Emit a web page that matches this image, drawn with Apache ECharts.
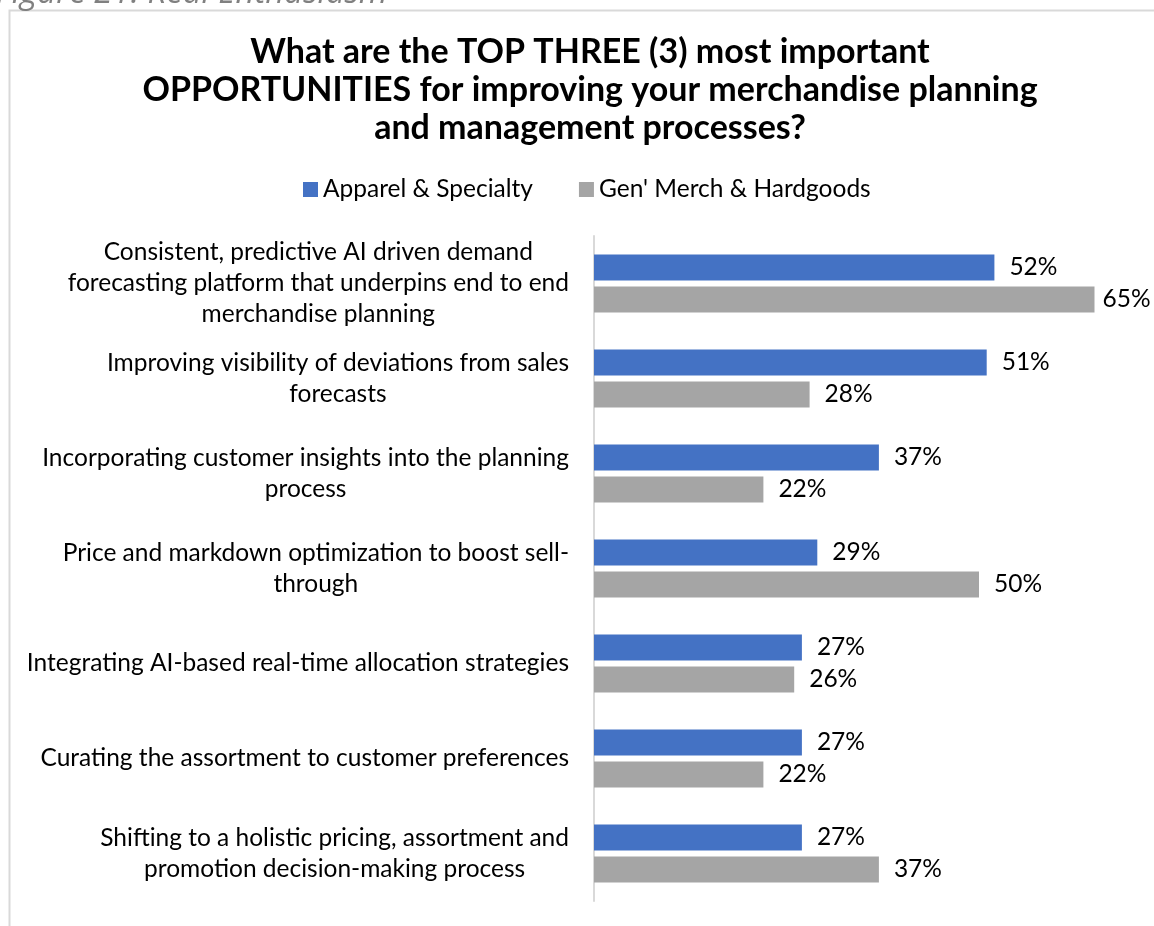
<!DOCTYPE html>
<html>
<head>
<meta charset="utf-8">
<script src="https://cdn.jsdelivr.net/npm/echarts@6/dist/echarts.min.js"></script>
<style>
  html, body { margin: 0; padding: 0; background: #fff; }
  #chart { width: 1154px; height: 926px; }
</style>
</head>
<body>
<div id="chart"></div>
<script>
// Survey question and answer options (top to bottom)
const categories = [
  'Consistent, predictive AI driven demand\nforecasting platform that underpins end to end\nmerchandise planning',
  'Improving visibility of deviations from sales\nforecasts',
  'Incorporating customer insights into the planning\nprocess',
  'Price and markdown optimization to boost sell-\nthrough',
  'Integrating AI-based real-time allocation strategies',
  'Curating the assortment to customer preferences',
  'Shifting to a holistic pricing, assortment and\npromotion decision-making process'
];
const seriesNames = ['Apparel & Specialty', "Gen' Merch & Hardgoods"];
const apparelValues = [52, 51, 37, 29, 27, 27, 27];
const genMerchValues = [65, 28, 22, 50, 26, 22, 37];

const titleText = 'What are the TOP THREE (3) most important\nOPPORTUNITIES for improving your merchandise planning\nand management processes?';
const captionText = 'Figure 21: Real Enthusiasm';

const FONT = 'Lato, "Open Sans", sans-serif';
const X_MAX = 70;
const chart = echarts.init(document.getElementById('chart'));

// each line of a category label is centred within the right-aligned block
function centredLines(value) {
  return value.split('\n').map(l => '{c|' + l + '}').join('\n');
}

const labelStyle = {
  show: true,
  position: 'right',
  distance: 15,
  formatter: '{c}%',
  color: '#000',
  fontSize: 24.5,
  fontFamily: FONT
};

// labels of the longest bars sit closer so they stay inside the frame
function withLabels(values) {
  return values.map(v => v > 60 ? { value: v, label: { distance: 8 } } : v);
}

chart.setOption({
  backgroundColor: '#fff',
  animation: false,
  title: {
    text: titleText,
    left: 585,
    top: 28,
    textAlign: 'center',
    textStyle: {
      fontFamily: FONT,
      fontWeight: 'bold',
      fontSize: 34,
      lineHeight: 38,
      color: '#000'
    }
  },
  legend: {
    data: seriesNames,
    left: 298,
    top: 172,
    icon: 'rect',
    itemWidth: 15,
    itemHeight: 15,
    itemGap: 46,
    textStyle: { fontFamily: FONT, fontSize: 24.5, color: '#000' }
  },
  graphic: [
    {
      type: 'rect',
      shape: { x: 9.5, y: 10.5, width: 1300, height: 1000 },
      style: { fill: 'none', stroke: '#d9d9d9', lineWidth: 2 },
      silent: true
    },
    {
      type: 'text',
      x: -4,
      y: -23,
      style: {
        text: captionText,
        font: 'italic 33px "Open Sans", sans-serif',
        fill: '#808080',
        verticalAlign: 'top'
      },
      silent: true
    }
  ],
  grid: { left: 594, top: 236, height: 665, width: 539, containLabel: false },
  xAxis: {
    type: 'value',
    min: 0,
    max: X_MAX,
    show: false
  },
  yAxis: {
    type: 'category',
    data: categories,
    inverse: true,
    axisLine: { show: true, lineStyle: { color: '#d9d9d9', width: 2 } },
    axisTick: { show: false },
    axisLabel: {
      margin: 25,
      align: 'right',
      color: '#000',
      fontSize: 24.5,
      fontFamily: FONT,
      lineHeight: 31,
      formatter: centredLines,
      rich: {
        c: { align: 'center', fontSize: 24.5, fontFamily: FONT, lineHeight: 31, color: '#000' }
      }
    }
  },
  series: [
    {
      name: seriesNames[0],
      type: 'bar',
      data: withLabels(apparelValues),
      barWidth: 26,
      barGap: '23%',
      itemStyle: { color: '#4472C4' },
      label: labelStyle
    },
    {
      name: seriesNames[1],
      type: 'bar',
      data: withLabels(genMerchValues),
      barWidth: 26,
      itemStyle: { color: '#A5A5A5' },
      label: labelStyle
    }
  ]
});
</script>
</body>
</html>
